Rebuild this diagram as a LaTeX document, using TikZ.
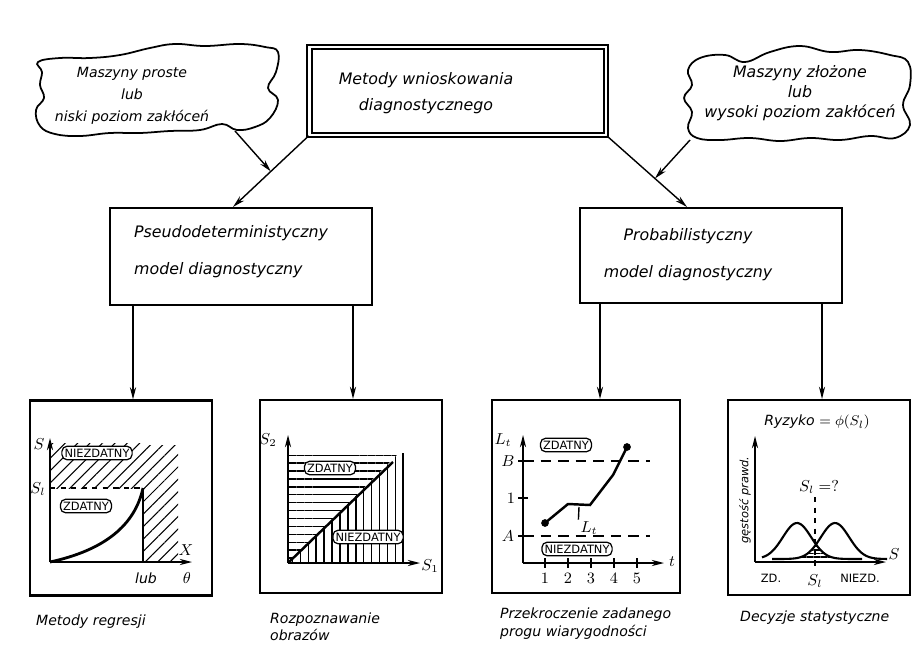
\documentclass[tikz,border=0pt]{standalone}
\usepackage{fontspec}
\setsansfont{DejaVu Sans}
\usepackage{amsmath}
\usetikzlibrary{positioning, arrows.meta, patterns.meta, calc}

\begin{document}
\begin{tikzpicture}[x=0.02cm,y=-0.02cm,>={Stealth[length=7pt,width=3.5pt]},
    txt/.style={font=\fontsize{9}{11}\selectfont\sffamily\itshape},
    note/.style={font=\fontsize{8}{10}\selectfont\sffamily\itshape,align=left},
    tag/.style={draw,fill=white,rounded corners=3pt,inner sep=1.5pt,line width=.7pt,
      font=\fontsize{6.5}{7}\selectfont\sffamily},
    lbl/.style={font=\small,inner sep=1pt},
    box/.style={draw,line width=1.2pt,minimum width=5.24cm,minimum height=1.94cm},
    panel/.style={draw,line width=1.2pt,minimum width=3.64cm,minimum height=3.9cm},
    blob/.style={draw,line width=1pt,fill=white},
    lnk/.style={line width=.8pt},
    hatch/.style={pattern={Lines[angle=#1,distance=5pt,line width=.6pt]}}]

  \useasboundingbox (0,0) rectangle (915,645);

  % clouds
  \draw[blob] plot[smooth cycle,tension=.7] coordinates {(38,62) (60,58) (90,58) (120,55)
    (150,48) (175,44) (205,46) (240,44) (265,47) (278,52) (276,72) (268,88) (278,100)
    (270,118) (255,127) (237,130) (222,124) (200,130) (170,131) (140,133) (110,133)
    (80,136) (55,134) (40,126) (36,110) (44,98) (40,85) (42,72)};
  \draw[blob] plot[smooth cycle,tension=.7] coordinates {(688,70) (700,58) (725,55)
    (745,62) (770,52) (800,46) (830,52) (860,50) (890,55) (908,62) (910,85) (903,105)
    (910,125) (895,138) (870,136) (840,140) (810,138) (780,141) (750,138) (720,140)
    (697,138) (688,128) (692,112) (684,98) (692,85)};
  \node[txt,font=\fontsize{8}{12.5}\selectfont\sffamily\itshape,align=center] (lcl)
    at (132,96) {Maszyny proste\\lub\\niski poziom zakłóceń};
  \node[txt,font=\fontsize{9}{11.5}\selectfont\sffamily\itshape,align=center] (rcl)
    at (800,93) {Maszyny złożone\\lub\\wysoki poziom zakłóceń};
  \coordinate (lcl-tip) at (235,131);
  \coordinate (rcl-tip) at (690,140);

  % boxes
  \node[draw,double,double distance=1.5pt,line width=1pt,minimum width=5.93cm,
    minimum height=1.76cm] (top) at (457.75,91) {};
  \node[txt,align=center] (toptxt) at (426,93) {Metody wnioskowania\\[4pt]diagnostycznego};
  \node[box] (lbox) at (241,256.5) {};
  \node[txt,align=left,anchor=west] (ltxt) at (128,252) {Pseudodeterministyczny\\[10pt]model diagnostyczny};
  \node[box,minimum height=1.9cm] (rbox) at (711,255.5) {};
  \node[txt,align=center] (rtxt) at (688,255) {Probabilistyczny\\[10pt]model diagnostyczny};

  \coordinate (lin) at ([xshift=-.16cm]lbox.north);
  \coordinate (rin) at ([xshift=-.48cm]rbox.north);
  \coordinate (lmid) at ($(top.south west)!.5!(lin)$);
  \coordinate (rmid) at ($(top.south east)!.6!(rin)$);

  \path[->,lnk]
    (top.south west) edge (lin)
    (top.south east) edge (rin)
    (lcl-tip) edge (lmid)
    (rcl-tip) edge (rmid);

  % panels
  \node[panel] (p1) at (121,498) {};
  \node[panel,minimum height=3.86cm] (p2) at (351,496.5) {};
  \node[panel,minimum width=3.76cm,minimum height=3.86cm] (p3) at (586,496.5) {};
  \node[panel] (p4) at (819,497.5) {};

  \path[->,lnk]
    ([xshift=.24cm]p1.north |- lbox.south) edge ([xshift=.24cm]p1.north)
    ([xshift=.04cm]p2.north |- lbox.south) edge ([xshift=.04cm]p2.north)
    ([xshift=.28cm]p3.north |- rbox.south) edge ([xshift=.28cm]p3.north)
    ([xshift=.06cm]p4.north |- rbox.south) edge ([xshift=.06cm]p4.north);

  % regresja
  \fill[hatch=45] (50,443) rectangle (143,488);
  \fill[hatch=45] (143,445) rectangle (178,562);
  \draw[lnk,->] (50,562) -- (50,438);
  \draw[lnk,->] (50,562) -- (192,562);
  \draw[lnk,dashed] (50,488) -- (143,488);
  \draw[lnk] (143,488) -- (143,562);
  \draw[line width=1.6pt] (50,562) .. controls (105,550) and (135,525) .. (143,488);
  \node[tag] (n1) at (97,453) {NIEZDATNY};
  \node[tag] (z1) at (86,506) {ZDATNY};
  \node[lbl] (s1) at (39,444) {$S$};
  \node[lbl] (sl1) at (38,489) {$S_l$};
  \node[lbl] (x1) at (186,550) {$X$};
  \node[lbl] (th1) at (187,578) {$\theta$};
  \node[note] (lub1) at (146,578) {lub};

  % obrazy
  \fill[pattern={Lines[angle=0,distance=4.5pt,line width=.8pt]}]
    (288,563) -- (288,453) -- (399,453) -- cycle;
  \fill[pattern={Lines[angle=90,distance=4.5pt,line width=.9pt]}]
    (288,563) -- (399,453) -- (408,453) -- (408,563) -- cycle;
  \draw[lnk,->] (288,563) -- (288,435);
  \draw[lnk,->] (288,563) -- (420,563);
  \draw[line width=1.4pt] (288,563) -- (393,462);
  \node[tag] (z2) at (330,468) {ZDATNY};
  \node[tag] (n2) at (368,537) {NIEZDATNY};
  \node[lbl] (s22) at (268,440) {$S_2$};
  \node[lbl] (s21) at (430,566) {$S_1$};

  % progi
  \draw[lnk,->] (523,563) -- (523,435);
  \draw[lnk,->] (523,563) -- (664,563);
  \draw[lnk,dash pattern=on 6pt off 4pt] (523,461) -- (650,461);
  \draw[lnk,dash pattern=on 6pt off 4pt] (523,536) -- (650,536);
  \foreach \y in {461,498,536} \draw[lnk] (518,\y) -- (528,\y);
  \node[lbl] (pb) at (508,461) {$B$};
  \node[lbl] (p1y) at (511,498) {$1$};
  \node[lbl] (pa) at (508,536) {$A$};
  \foreach \x [count=\i] in {545,568,591,614,637} {
    \draw[lnk] (\x,558) -- (\x,568);
    \node[lbl] (tk\i) at (\x,578) {$\i$};
  }
  \draw[line width=1.4pt] (545,523) -- (568,504) -- (590,505) -- (613,475) -- (627,447);
  \fill (545,523) circle (2.2pt);
  \fill (627,447) circle (2.2pt);
  \node[lbl] (lt3) at (589,528) {$L_t$};
  \draw[lnk] (lt3.north west) -- (579,507);
  \node[tag] (z3) at (566,445) {ZDATNY};
  \node[tag] (n3) at (577,549) {NIEZDATNY};
  \node[lbl] (lty) at (503,440) {$L_t$};
  \node[lbl] (tx) at (672,562) {$t$};

  % decyzje
  \node[txt,font=\fontsize{8}{10}\selectfont\sffamily\itshape] (ryz) at (817,422) {Ryzyko $=\phi(S_l)$};
  \draw[lnk,->] (755,562) -- (755,436);
  \draw[lnk,->] (755,562) -- (886,562);
  \node[font=\fontsize{6.5}{7}\selectfont\sffamily\itshape,rotate=90] (gp) at (745,500) {gęstość prawd.};
  \fill[pattern={Lines[angle=0,distance=2pt,line width=.8pt]}]
    plot[domain=770:816,samples=30] (\x,{559-36*exp(-1*((\x-835)/20)^2)})
    -- plot[domain=816:864,samples=30] (\x,{559-36*exp(-1*((\x-797)/20)^2)}) -- cycle;
  \draw[line width=1.2pt] plot[domain=762:862,samples=60] (\x,{559-36*exp(-1*((\x-797)/20)^2)});
  \draw[line width=1.2pt] plot[domain=772:887,samples=60] (\x,{559-36*exp(-1*((\x-835)/20)^2)});
  \draw[lnk,dashed] (815,497) -- (815,568);
  \node[lbl] (slq) at (819,487) {$S_l=?$};
  \node[lbl] (sl4) at (815,581) {$S_l$};
  \node[lbl] (s4) at (894,554) {$S$};
  \node[tag,draw=none,fill=none] (zd) at (771,578) {ZD.};
  \node[tag,draw=none,fill=none] (nzd) at (860,578) {NIEZD.};

  % podpisy
  \node[note,below=.25cm of p1.south west,anchor=north west,xshift=.02cm] (c1) {Metody regresji};
  \node[note,below=.25cm of p2.south west,anchor=north west,xshift=.1cm] (c2) {Rozpoznawanie\\obrazów};
  \node[note,below=.16cm of p3.south west,anchor=north west,xshift=.06cm] (c3) {Przekroczenie zadanego\\progu wiarygodności};
  \node[note,below=.18cm of p4.south west,anchor=north west,xshift=.14cm] (c4) {Decyzje statystyczne};
\end{tikzpicture}
\end{document}
